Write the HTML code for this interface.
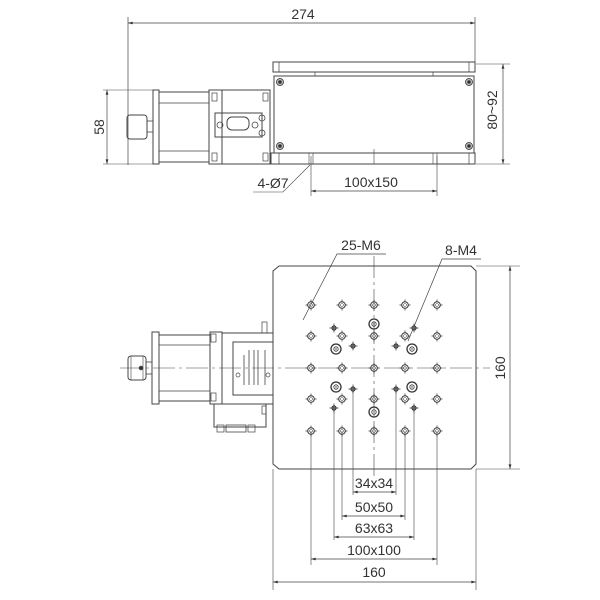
<!DOCTYPE html>
<html><head><style>body{margin:0;background:#fff}svg{display:block}text{font-family:"Liberation Sans",sans-serif;fill:#333}</style></head><body>
<svg width="600" height="600" viewBox="0 0 600 600" xmlns="http://www.w3.org/2000/svg">
<defs>
<marker id="a" viewBox="0 0 10 6" refX="10" refY="3" markerWidth="8" markerHeight="4" orient="auto-start-reverse"><path d="M0,0L10,3L0,6z" fill="#333"/></marker>
<g id="m6"><circle r="3.3" fill="none" stroke="#333" stroke-width="1"/><circle r="1.5" fill="none" stroke="#555" stroke-width="0.6"/><path d="M-5.5,0h2.2M3.3,0h2.2M0,-5.5v2.2M0,3.3v2.2" stroke="#333" stroke-width="0.7"/></g>
<g id="m4"><circle r="2.2" fill="#666" stroke="#333" stroke-width="0.8"/><path d="M-4.5,0h2.3M2.2,0h2.3M0,-4.5v2.3M0,2.2v2.3" stroke="#333" stroke-width="0.7"/></g>
<g id="big"><circle r="5" fill="none" stroke="#333" stroke-width="1.3"/><circle r="2.2" fill="none" stroke="#333" stroke-width="0.8"/><circle r="0.7" fill="#333"/></g>
<g id="scr"><circle r="3.5" fill="#bbb" stroke="#333" stroke-width="0.8"/><circle r="1.8" fill="#333"/></g>
</defs>
<g fill="none" stroke="#444" stroke-width="1">
<!-- TOP VIEW -->
<line x1="128" y1="17" x2="128" y2="165" stroke-width="0.7"/>
<line x1="475" y1="17" x2="475" y2="62" stroke-width="0.7"/>
<line x1="128" y1="23" x2="475" y2="23" stroke-width="0.7" marker-start="url(#a)" marker-end="url(#a)"/>
<rect x="273" y="62" width="202" height="10"/>
<line x1="279" y1="62" x2="279" y2="72" stroke-width="0.7"/><line x1="469" y1="62" x2="469" y2="72" stroke-width="0.7"/>
<line x1="315" y1="72" x2="315" y2="76" stroke-width="0.7"/><line x1="433" y1="72" x2="433" y2="76" stroke-width="0.7"/>
<rect x="274" y="76" width="200" height="77"/>
<rect x="271" y="153" width="204" height="11"/>
<line x1="279" y1="153" x2="279" y2="164" stroke-width="0.7"/><line x1="469" y1="153" x2="469" y2="164" stroke-width="0.7"/>
<path d="M309,153v11M313,153v11M433,153v11M437,153v11M374,149v15" stroke-width="0.6"/>
<!-- motor top -->
<rect x="153" y="90" width="6" height="74"/>
<rect x="159" y="92" width="50" height="70"/>
<path d="M159,103h50M159,151h50" stroke-width="0.7"/>
<rect x="209" y="90" width="13" height="74"/>
<rect x="222" y="90" width="48" height="74"/>
<rect x="212" y="93" width="5" height="8" stroke-width="0.7"/><rect x="212" y="153" width="5" height="8" stroke-width="0.7"/>
<rect x="263" y="93" width="5" height="8" stroke-width="0.7"/><rect x="263" y="153" width="5" height="8" stroke-width="0.7"/>
<rect x="215" y="113" width="47" height="24"/>
<rect x="227" y="117" width="22" height="13" rx="5"/>
<circle cx="220" cy="125" r="3" stroke-width="0.8"/><circle cx="255" cy="125" r="3" stroke-width="0.8"/>
<circle cx="262" cy="118" r="3" stroke-width="0.8"/><circle cx="262" cy="133" r="3" stroke-width="0.8"/>
<rect x="127" y="115" width="20" height="24" rx="3"/>
<rect x="147" y="121" width="6" height="11" stroke-width="0.8"/>
<!-- 58 dim -->
<path d="M103,90h50M103,164h50" stroke-width="0.6"/>
<line x1="107" y1="90" x2="107" y2="164" stroke-width="0.7" marker-start="url(#a)" marker-end="url(#a)"/>
<!-- 80~92 -->
<path d="M476,64h34M476,164h34" stroke-width="0.6"/>
<line x1="503" y1="64" x2="503" y2="164" stroke-width="0.7" marker-start="url(#a)" marker-end="url(#a)"/>
<!-- 100x150 -->
<path d="M311,156v40M437,156v40" stroke-width="0.6"/>
<line x1="311" y1="191" x2="437" y2="191" stroke-width="0.7" marker-start="url(#a)" marker-end="url(#a)"/>
<path d="M310,165L283,192h-30" stroke-width="0.6"/>
<!-- BOTTOM VIEW -->
<path d="M279,266H471l5,5V464l-5,5H279l-6,-5V271z"/>
<path d="M476,266h44M476,469h44" stroke-width="0.6"/>
<line x1="510" y1="266" x2="510" y2="469" stroke-width="0.7" marker-start="url(#a)" marker-end="url(#a)"/>
<path d="M120,368H490" stroke-width="0.6" stroke-dasharray="22,4,3,4"/>
<path d="M374,256V478" stroke-width="0.6" stroke-dasharray="22,4,3,4"/>
<!-- motor bottom -->
<rect x="152" y="332" width="7" height="72"/>
<rect x="159" y="335" width="51" height="66"/>
<path d="M159,345h51M159,391h51" stroke-width="0.7"/>
<rect x="210" y="332" width="12" height="72"/>
<rect x="211" y="334" width="5" height="8" stroke-width="0.7"/><rect x="211" y="393" width="5" height="8" stroke-width="0.7"/>
<rect x="222" y="333" width="51" height="71"/>
<rect x="233" y="342" width="40" height="53"/>
<path d="M244,355V385M249,350V385M254,350V385M258,350V385M265,350V385" stroke-width="0.8"/>
<circle cx="238" cy="375" r="2" stroke-width="0.7"/><circle cx="268" cy="375" r="2" stroke-width="0.7"/>
<rect x="262" y="322" width="5" height="11" stroke-width="0.7"/>
<rect x="214" y="404" width="52" height="23"/>
<rect x="262" y="406" width="4" height="8" stroke-width="0.7"/>
<rect x="217" y="425" width="7" height="7" stroke-width="0.7"/><rect x="226" y="425" width="20" height="7" stroke-width="0.8"/><rect x="248" y="425" width="7" height="7" stroke-width="0.7"/>
<rect x="128" y="356" width="18" height="24" rx="3"/>
<path d="M131,356v24M143,356v24" stroke-width="0.6"/>
<circle cx="141" cy="368" r="1.8" fill="#333"/>
<rect x="146" y="362" width="6" height="12" stroke-width="0.8"/>
<!-- ext lines down -->
<path d="M311,431V565M437,431V565M334,408V540M414,408V540M342,431V520M405,431V520M353,389V495M396,389V495" stroke-width="0.6"/>
<path d="M273,469V590M476,469V590" stroke-width="0.6"/>
<line x1="353" y1="492" x2="396" y2="492" stroke-width="0.7" marker-start="url(#a)" marker-end="url(#a)"/>
<line x1="342" y1="516" x2="405" y2="516" stroke-width="0.7" marker-start="url(#a)" marker-end="url(#a)"/>
<line x1="334" y1="537" x2="414" y2="537" stroke-width="0.7" marker-start="url(#a)" marker-end="url(#a)"/>
<line x1="311" y1="559" x2="437" y2="559" stroke-width="0.7" marker-start="url(#a)" marker-end="url(#a)"/>
<line x1="273" y1="582" x2="476" y2="582" stroke-width="0.7" marker-start="url(#a)" marker-end="url(#a)"/>
<!-- leaders -->
<path d="M386,254H337L303,320" stroke-width="0.7"/>
<path d="M481,259H442L408,341" stroke-width="0.7"/>
</g>
<use href="#scr" x="280" y="82"/><use href="#scr" x="469" y="82"/><use href="#scr" x="280" y="146"/><use href="#scr" x="469" y="146"/>
<g>
<use href="#m6" x="311" y="305"/><use href="#m6" x="342" y="305"/><use href="#m6" x="374" y="305"/><use href="#m6" x="405" y="305"/><use href="#m6" x="437" y="305"/>
<use href="#m6" x="311" y="336"/><use href="#m6" x="342" y="336"/><use href="#m6" x="374" y="336"/><use href="#m6" x="405" y="336"/><use href="#m6" x="437" y="336"/>
<use href="#m6" x="311" y="368"/><use href="#m6" x="342" y="368"/><use href="#m6" x="374" y="368"/><use href="#m6" x="405" y="368"/><use href="#m6" x="437" y="368"/>
<use href="#m6" x="311" y="399"/><use href="#m6" x="342" y="399"/><use href="#m6" x="374" y="399"/><use href="#m6" x="405" y="399"/><use href="#m6" x="437" y="399"/>
<use href="#m6" x="311" y="431"/><use href="#m6" x="342" y="431"/><use href="#m6" x="374" y="431"/><use href="#m6" x="405" y="431"/><use href="#m6" x="437" y="431"/>
<use href="#m4" x="334" y="328"/><use href="#m4" x="353" y="346"/><use href="#m4" x="396" y="346"/><use href="#m4" x="414" y="328"/>
<use href="#m4" x="353" y="389"/><use href="#m4" x="334" y="408"/><use href="#m4" x="396" y="389"/><use href="#m4" x="414" y="408"/>
<use href="#big" x="374" y="324"/><use href="#big" x="336" y="349"/><use href="#big" x="412" y="349"/><use href="#big" x="336" y="387"/><use href="#big" x="412" y="387"/><use href="#big" x="374" y="412"/>
</g>
<g font-size="14">
<text x="303" y="19" text-anchor="middle">274</text>
<text x="0" y="0" text-anchor="middle" transform="translate(104,127) rotate(-90)">58</text>
<text x="0" y="0" text-anchor="middle" transform="translate(497,110) rotate(-90)">80~92</text>
<text x="371" y="187" text-anchor="middle">100x150</text>
<text x="273" y="188" text-anchor="middle">4-Ø7</text>
<text x="361" y="250" text-anchor="middle">25-M6</text>
<text x="461" y="255" text-anchor="middle">8-M4</text>
<text x="0" y="0" text-anchor="middle" transform="translate(505,368) rotate(-90)">160</text>
<text x="374" y="488" text-anchor="middle">34x34</text>
<text x="374" y="512" text-anchor="middle">50x50</text>
<text x="374" y="533" text-anchor="middle">63x63</text>
<text x="374" y="555" text-anchor="middle">100x100</text>
<text x="374" y="577" text-anchor="middle">160</text>
</g>
</svg>
</body></html>
